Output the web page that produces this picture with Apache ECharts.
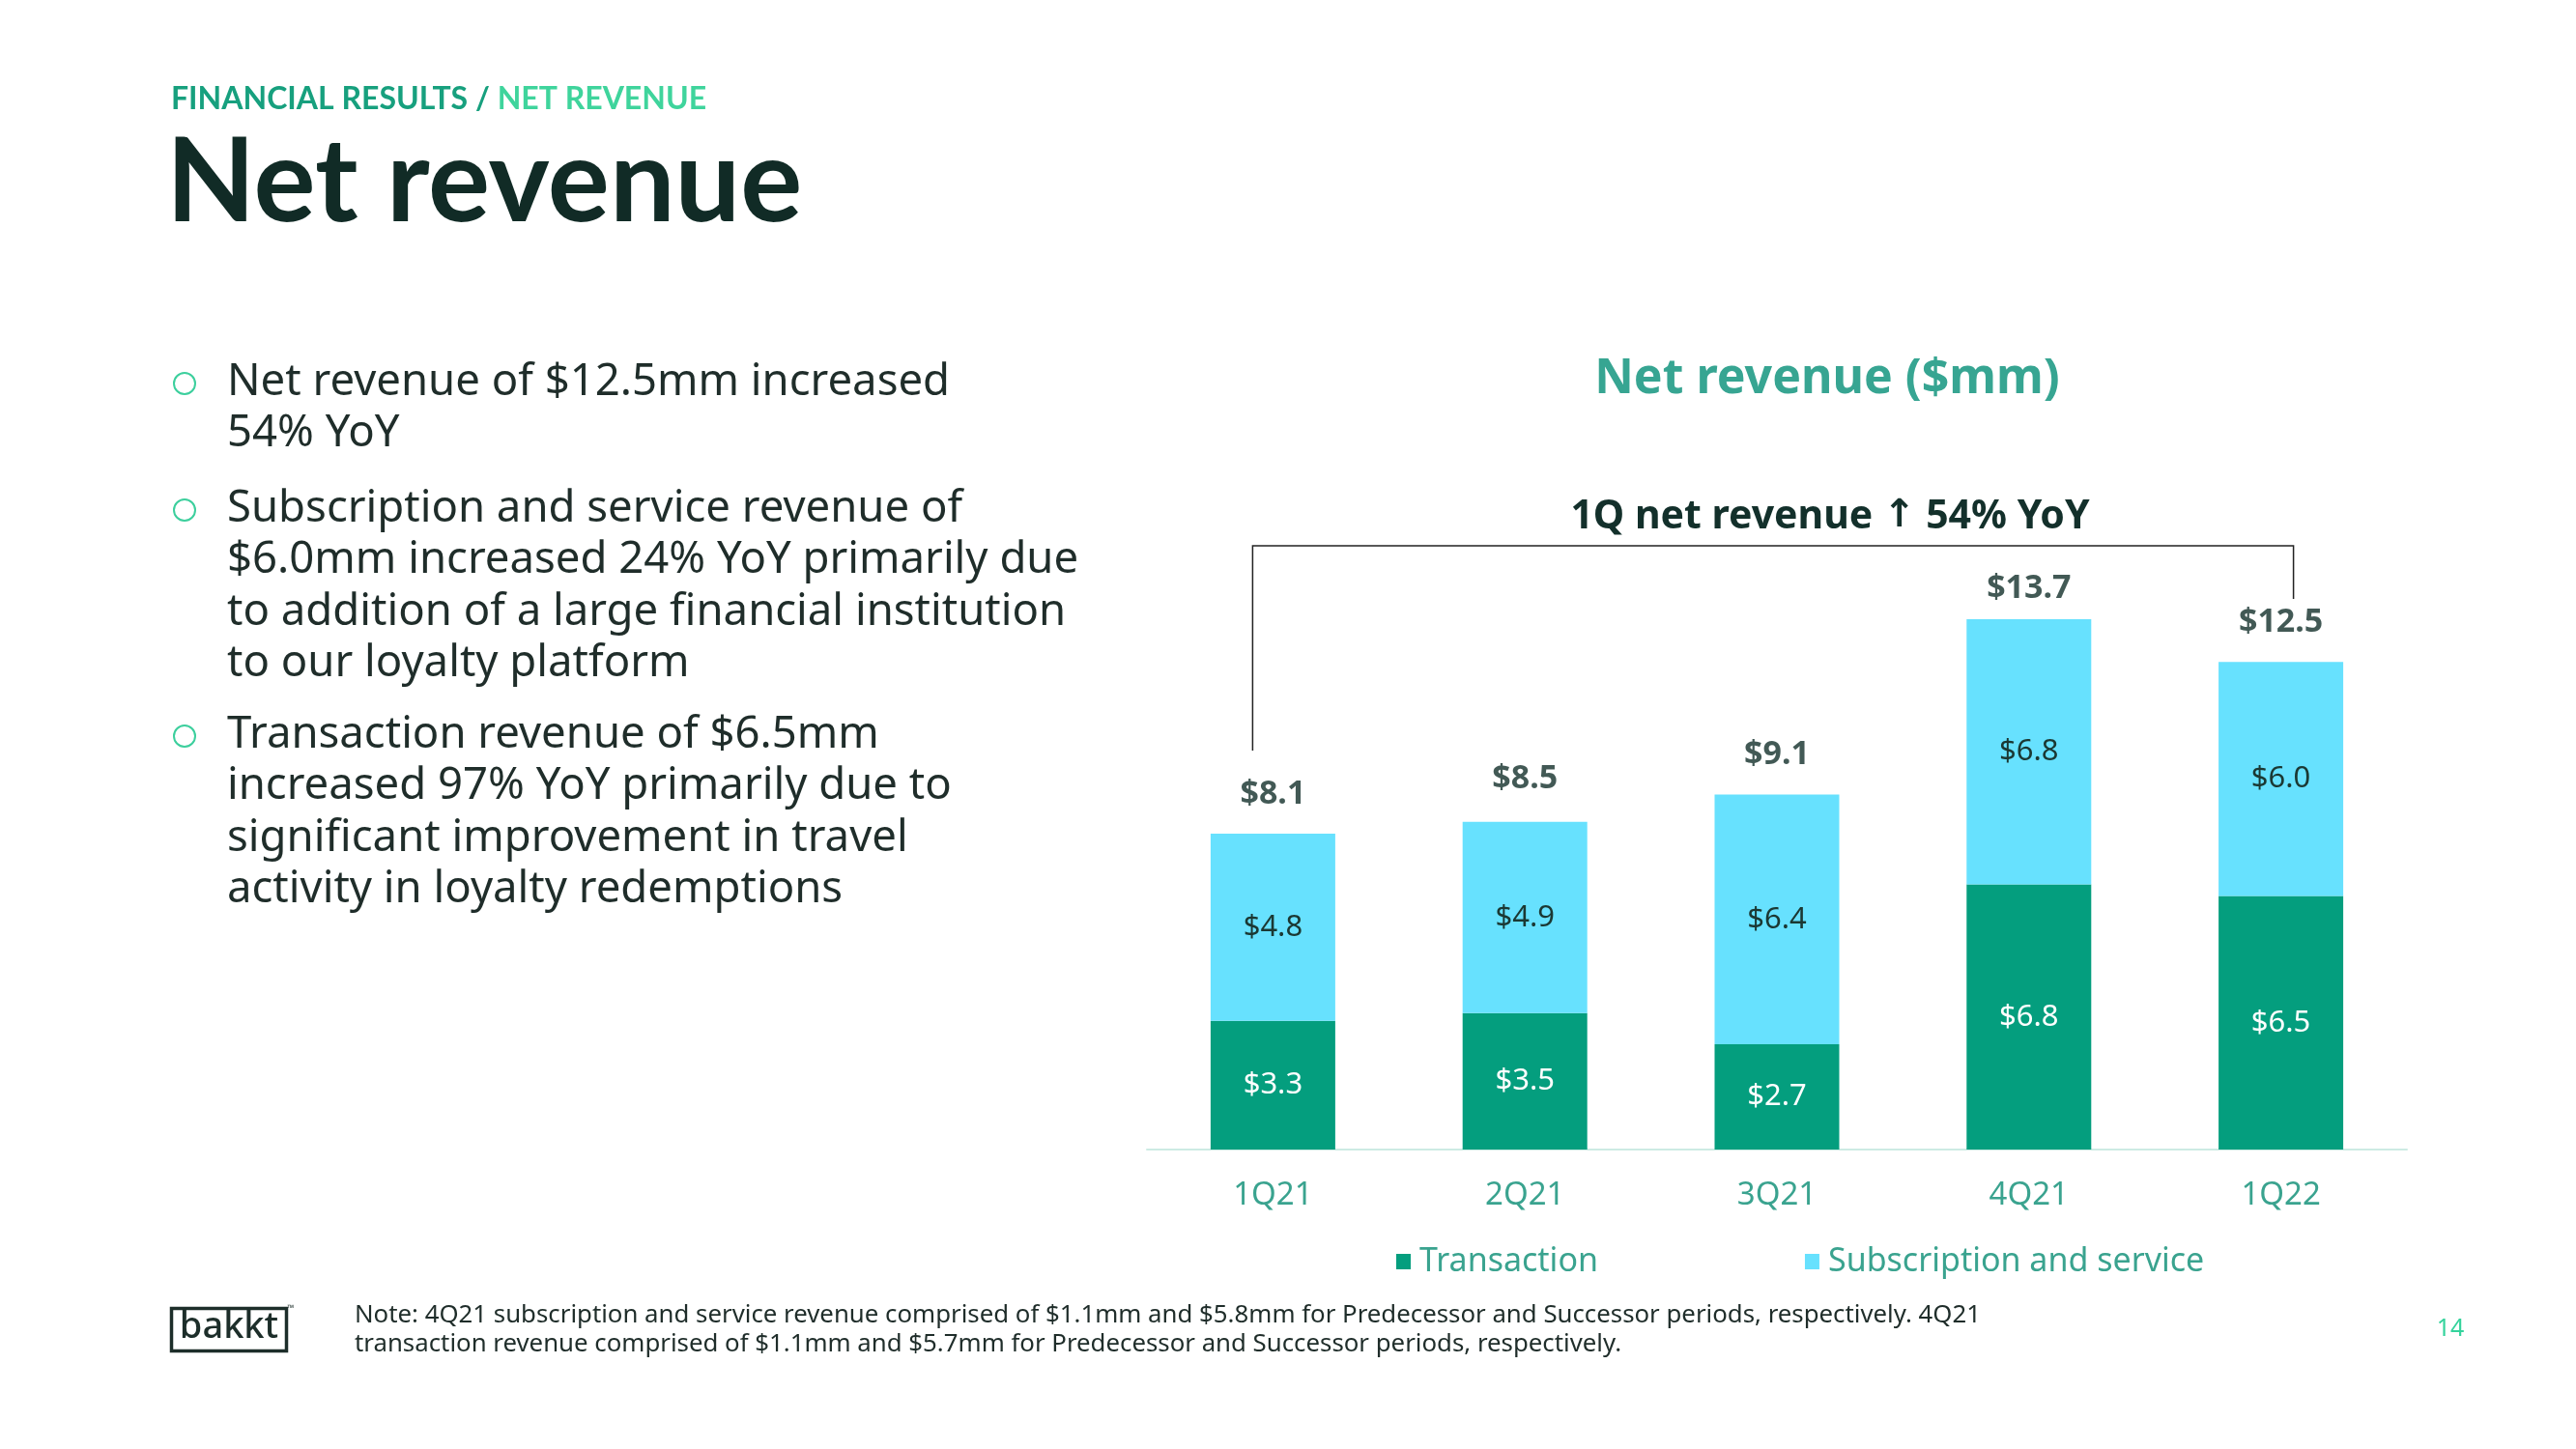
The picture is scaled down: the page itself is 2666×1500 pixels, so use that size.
<!DOCTYPE html>
<html><head><meta charset="utf-8">
<script src="https://cdn.jsdelivr.net/npm/echarts@6/dist/echarts.min.js"></script>
<style>html,body{margin:0;padding:0;background:#fff;}#c{width:2666px;height:1500px;}</style>
</head><body><div id="c"></div>
<script>
// ---- data ----
const categories = ['1Q21', '2Q21', '3Q21', '4Q21', '1Q22'];
const transaction = [3.3, 3.5, 2.7, 6.8, 6.5];
const subscription = [4.8, 4.9, 6.4, 6.8, 6.0];
const totals = [8.1, 8.5, 9.1, 13.7, 12.5];
const seriesNames = ['Transaction', 'Subscription and service'];
const bullets = [
  ['Net revenue of $12.5mm increased', '54% YoY'],
  ['Subscription and service revenue of', '$6.0mm increased 24% YoY primarily due', 'to addition of a large financial institution', 'to our loyalty platform'],
  ['Transaction revenue of $6.5mm', 'increased 97% YoY primarily due to', 'significant improvement in travel', 'activity in loyalty redemptions']
];
const noteLines = [
  'Note: 4Q21 subscription and service revenue comprised of $1.1mm and $5.8mm for Predecessor and Successor periods, respectively. 4Q21',
  'transaction revenue comprised of $1.1mm and $5.7mm for Predecessor and Successor periods, respectively.'
];

// ---- styles ----
const C_TRANS = '#049e7e', C_SUB = '#67e1fe', C_TEAL = '#3aa38f', C_DARK = '#13302b';
const BODY = "'Noto Sans', sans-serif";
const fmt = v => '$' + Number(v).toFixed(1);

const chart = echarts.init(document.getElementById('c'));
chart.setOption({
  animation: false,
  backgroundColor: '#ffffff',
  grid: { left: 1187, right: 175, top: 544, bottom: 310 },
  xAxis: {
    type: 'category', data: categories,
    axisLine: { lineStyle: { color: '#cdebe4', width: 2 } },
    axisTick: { show: false },
    axisLabel: { color: C_TEAL, fontFamily: BODY, fontSize: 33, margin: 31 }
  },
  yAxis: { type: 'value', min: 0, max: 16, show: false, splitLine: { show: false } },
  legend: {
    data: seriesNames, left: 1440, top: 1281, icon: 'rect',
    itemWidth: 15, itemHeight: 16, itemGap: 214,
    textStyle: { fontFamily: BODY, fontSize: 34, color: C_TEAL, lineHeight: 40, padding: [0, 0, 0, 4] }
  },
  series: [
    {
      name: seriesNames[0], type: 'bar', stack: 'rev', data: transaction, barWidth: 129,
      itemStyle: { color: C_TRANS },
      label: { show: true, position: 'inside', formatter: p => fmt(p.value), color: '#ffffff', fontFamily: BODY, fontSize: 31 }
    },
    {
      name: seriesNames[1], type: 'bar', stack: 'rev', data: subscription, barWidth: 129,
      itemStyle: { color: C_SUB },
      label: { show: true, position: 'inside', formatter: p => fmt(p.value), color: '#1b3833', fontFamily: BODY, fontSize: 31 }
    },
    {
      name: 'Total', type: 'scatter', symbolSize: 2, itemStyle: { color: 'rgba(255,255,255,0)' },
      data: totals.map((v, i) => i === 3 ? { value: v, label: { distance: 10 } } : v),
      label: { show: true, position: 'top', distance: 23, formatter: p => fmt(p.value), color: C_DARK, fontFamily: BODY, fontWeight: 'bold', fontSize: 34 },
      z: 5
    }
  ]
});

// ---- annotation & page text ----
const xFirst = chart.convertToPixel({ xAxisIndex: 0 }, categories[0]);
const xLast = chart.convertToPixel({ xAxisIndex: 0 }, categories[categories.length - 1]);
const bracketY = 565;

const g = [];
g.push({ type: 'text', x: 177, y: 103, style: {
  text: '{a|FINANCIAL RESULTS / }{b|NET REVENUE}', verticalAlign: 'middle',
  rich: { a: { fill: '#17a07e', font: "bold 32px Lato" }, b: { fill: '#3fd49c', font: "bold 32px Lato" } }
}});
g.push({ type: 'text', x: 172, y: 190, style: { text: 'Net revenue', font: "bold 120px Lato", fill: '#112b26', verticalAlign: 'middle' } });

const paraStart = [396, 527, 761];
const lineGap = 53.5;
bullets.forEach((lines, pi) => {
  g.push({ type: 'circle', shape: { cx: 191, cy: paraStart[pi] + 1, r: 11 }, style: { fill: 'none', stroke: '#3ccf9d', lineWidth: 2 } });
  lines.forEach((t, li) => {
    g.push({ type: 'text', x: 235, y: paraStart[pi] + li * lineGap, style: { text: t, font: "45.5px 'Noto Sans'", fill: '#1f2d2a', verticalAlign: 'middle' } });
  });
});

g.push({ type: 'text', x: 1891, y: 393, style: { text: 'Net revenue ($mm)', font: "bold 50px 'Noto Sans'", fill: '#37a592', align: 'center', verticalAlign: 'middle' } });
g.push({ type: 'text', x: 1894, y: 535, style: {
  text: '{t|1Q net revenue }{a|\u2191}{t| 54% YoY}', align: 'center', verticalAlign: 'middle',
  rich: { t: { font: "bold 41px 'Noto Sans'", fill: C_DARK }, a: { font: "bold 40px 'DejaVu Sans'", fill: C_DARK } }
}});

g.push({ type: 'polyline', shape: { points: [[xFirst - 21, 777], [xFirst - 21, bracketY], [xLast + 13, bracketY], [xLast + 13, 620]] },
  style: { stroke: '#222222', lineWidth: 1.5, fill: null } });

noteLines.forEach((t, i) => {
  g.push({ type: 'text', x: 367, y: 1362 + i * 30, style: { text: t, font: "25.8px 'Noto Sans'", fill: '#1f2d2a', verticalAlign: 'middle' } });
});

g.push({ type: 'rect', shape: { x: 177.5, y: 1354.5, width: 119, height: 44 }, style: { fill: 'none', stroke: '#1d2e2a', lineWidth: 3.5 } });
g.push({ type: 'text', x: 237, y: 1374, style: { text: 'bakkt', font: "500 38px 'Noto Sans'", fill: '#1d2e2a', align: 'center', verticalAlign: 'middle' } });
g.push({ type: 'text', x: 301, y: 1354, style: { text: '\u2122', font: "9px 'Noto Sans'", fill: '#1d2e2a', align: 'center', verticalAlign: 'middle' } });
g.push({ type: 'text', x: 2536, y: 1376, style: { text: '14', font: "25px 'Noto Sans'", fill: '#34d39c', align: 'center', verticalAlign: 'middle' } });

chart.setOption({ graphic: g });
</script></body></html>
